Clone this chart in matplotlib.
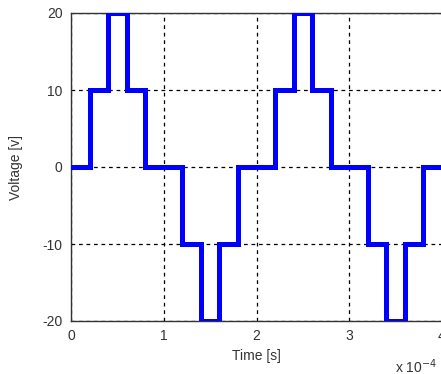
import matplotlib
matplotlib.use("Agg")
import matplotlib.pyplot as plt

# time in units of 1e-4 s
time = [0, 0.2, 0.4, 0.6, 0.8, 1.2, 1.4, 1.6, 1.8, 2.2, 2.4, 2.6, 2.8, 3.2, 3.4, 3.6, 3.8, 4.0]
voltage = [0, 10, 20, 10, 0, -10, -20, -10, 0, 10, 20, 10, 0, -10, -20, -10, 0, 0]
xticks = [0, 1, 2, 3, 4]
yticks = [-20, -10, 0, 10, 20]

plt.rcParams['font.family'] = ['Liberation Sans', 'DejaVu Sans']

fig = plt.figure(figsize=(4.41, 3.74), dpi=100)
ax = fig.add_axes([71/441, 1 - 321/374, (442 - 71)/441, (321 - 13)/374])

ax.step(time, voltage, where='post', color='#0000ff', linewidth=3.6, solid_joinstyle='miter', zorder=3)

ax.set_xlim(0, 4)
ax.set_ylim(-20, 20)
ax.set_xticks(xticks)
ax.set_yticks(yticks)
ax.set_xticklabels([str(t) for t in xticks])
ax.set_yticklabels([str(t) for t in yticks])
ax.grid(True, color='black', linestyle=(0, (3, 3)), linewidth=0.9)
ax.tick_params(axis='both', direction='in', length=0, labelsize=10, colors='#333333', pad=6)
for s in ax.spines.values():
    s.set_color('#333333')
    s.set_linewidth(1.0)

ax.set_xlabel('Time [s]', fontsize=10, color='#333333', labelpad=4)
ax.set_ylabel('Voltage [v]', fontsize=10, color='#333333', labelpad=14)
fig.text(395/441, 1 - 367/374, r'x 10$^{-4}$', fontsize=10, color='#333333', va='center', ha='left')

fig.savefig('out.png', dpi=100)
